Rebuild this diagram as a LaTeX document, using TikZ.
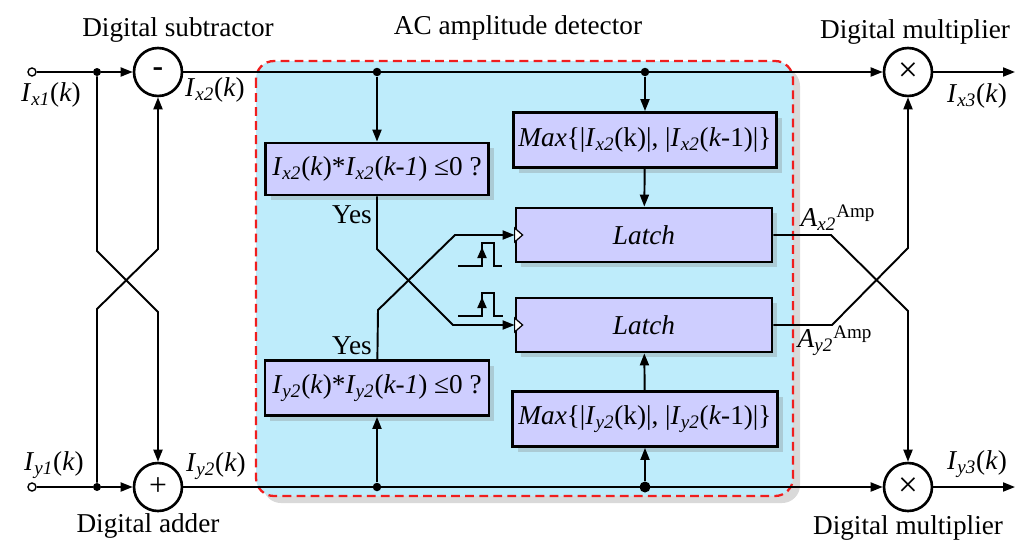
\documentclass[tikz,border=0pt]{standalone}
\usepackage{fontspec}
\setmainfont{Liberation Serif}
\usetikzlibrary{arrows.meta,shadows}
\definecolor{panelblue}{RGB}{190,236,251}
\definecolor{boxlilac}{RGB}{206,206,255}
\definecolor{dashred}{RGB}{240,30,30}
\newcommand{\sig}[2]{\textit{I}\textsubscript{\textit{#1}}(#2)}
\newcommand{\amp}[1]{\textit{A}\textsubscript{\textit{#1}}\textsuperscript{Amp}}
\tikzset{
	wire/.style={line width=1.1pt},
	arr/.style={wire, -{Triangle[length=2.4mm,width=1.8mm]}},
	smallarr/.style={wire, -{Triangle[length=2.2mm,width=1.8mm]}},
	blk/.style={draw, line width=1.6pt, fill=boxlilac, inner sep=0pt,
		drop shadow={shadow xshift=3pt, shadow yshift=-3pt, opacity=0.3}},
	sumnode/.style={draw, circle, line width=1.5pt, fill=white, minimum size=0.96cm, inner sep=0pt},
	dot/.style={circle, fill, inner sep=0pt, minimum size=0.17cm},
	inport/.style={circle, draw, fill=white, line width=0.8pt, inner sep=0pt, minimum size=0.16cm},
	panel/.style={draw=dashred, line width=1.3pt, dash pattern=on 5pt off 3pt, fill=panelblue,
		rounded corners=0.36cm, drop shadow={shadow xshift=4pt, shadow yshift=-4pt, opacity=0.3}},
	clk/.style={draw, fill=white, line width=0.7pt},
}

\begin{document}
\begin{tikzpicture}[x=0.02cm, y=-0.02cm, font=\fontsize{15.5}{18}\selectfont]
	\useasboundingbox (0,0) rectangle (1024,558);
	
	%%%%% AC amplitude detector panel %%%%%
	\draw[panel] (256,61) rectangle (793,496);
	\node (ttlAC) at (518,28) {AC amplitude detector};
	
	%%%%% left side %%%%%
	\node[inport] (inx) at (32,72) {};
	\node[inport] (iny) at (32,487) {};
	\node[dot, minimum size=0.16cm] (jx) at (97,72) {};
	\node[dot, minimum size=0.16cm] (jy) at (97,487) {};
	\node[sumnode] (sub) at (158,72) {\fontsize{18}{18}\selectfont\textbf{-}};
	\node[sumnode] (add) at (158,487) {\fontsize{18}{18}\selectfont +};
	
	\node (ttlSub) at (178,30) {Digital subtractor};
	\node (ttlAdd) at (148,526) {Digital adder};
	\node (lblx1) at (51,95) {\sig{x1}{\textit{k}}};
	\node (lbly1) at (54,465) {\sig{y1}{\textit{k}}};
	\node (lblx2) at (215,90) {\sig{x2}{\textit{k}}};
	\node (lbly2) at (216,466) {\sig{y2}{\textit{k}}};
	
	\draw[wire] (inx) -- (jx);
	\draw[wire] (iny) -- (jy);
	\draw[arr] (jx) -- (sub);
	\draw[arr] (jy) -- (add);
	\draw[arr] (jx) -- (97,251) -- (158,312) -- (add);
	\draw[arr] (jy) -- (97,309) -- (158,249) -- (sub);
	
	%%%%% right side %%%%%
	\node[sumnode] (mulx) at (908,72) {\fontsize{20}{20}\selectfont ×};
	\node[sumnode] (muly) at (908,487) {\fontsize{20}{20}\selectfont ×};
	\coordinate (outx) at (1015,72);
	\coordinate (outy) at (1015,487);
	\node (ttlMulx) at (915,32) {Digital multiplier};
	\node (ttlMuly) at (908,528) {Digital multiplier};
	\node (lblx3) at (977,96) {\sig{x3}{\textit{k}}};
	\node (lbly3) at (977,464) {\sig{y3}{\textit{k}}};
	
	\draw[arr] (sub) -- (mulx);
	\draw[arr] (add) -- (muly);
	\draw[arr] (mulx) -- (outx);
	\draw[arr] (muly) -- (outy);
	
	%%%%% detector blocks %%%%%
	\node[blk, minimum width=4.46cm, minimum height=1.04cm] (chkx) at (377,169)
		{\sig{x2}{\textit{k}}*\sig{x2}{\textit{k-1}} ≤0 ?};
	\node[blk, minimum width=4.48cm, minimum height=1.1cm] (chky) at (377,388)
		{\sig{y2}{\textit{k}}*\sig{y2}{\textit{k-1}} ≤0 ?};
	\node[blk, minimum width=5.26cm, minimum height=1.1cm] (maxx) at (645,140)
		{\textit{Max}\{|\sig{x2}{k}|, |\sig{x2}{\textit{k}-1}|\}};
	\node[blk, minimum width=5.3cm, minimum height=1.1cm] (maxy) at (645,419)
		{\textit{Max}\{|\sig{y2}{k}|, |\sig{y2}{\textit{k}-1}|\}};
	\node[blk, minimum width=5.12cm, minimum height=1.08cm] (latchx) at (644,235) {\textit{Latch}};
	\node[blk, minimum width=5.12cm, minimum height=1.08cm] (latchy) at (644,325) {\textit{Latch}};
	
	\node[dot] (tA) at (377,72) {};
	\node[dot] (tB) at (645,72) {};
	\node[dot] (bA) at (377,487) {};
	\node[dot, minimum size=0.22cm] (bB) at (645,487) {};
	
	\draw[arr] (tA) -- (chkx);
	\draw[arr] (tB) -- (maxx);
	\draw[arr] (maxx) -- (latchx);
	\draw[arr] (bA) -- (chky);
	\draw[arr] (bB) -- (maxy);
	\draw[arr] (maxy) -- (latchy);
	
	\node (yesx) at (352,215) {Yes};
	\node (yesy) at (352,346) {Yes};
	\draw[arr] (chkx) -- (377,249) -- (453,325) -- (latchy);
	\draw[arr] (chky) -- (378,310) -- (455,235) -- (latchx);
	
	\foreach \l in {latchx,latchy}
		\draw[clk] ([yshift=1.4mm]\l.west) -- ([xshift=1.6mm]\l.west) -- ([yshift=-1.4mm]\l.west) -- cycle;
	
	% clock pulses
	\draw[wire] (458,266) -- (482,266) -- (482,243) -- (494,243) -- (494,266) -- (502,266);
	\draw[smallarr] (482,266) -- (482,247);
	\draw[wire] (458,316) -- (482,316) -- (482,293) -- (494,293) -- (494,316) -- (503,316);
	\draw[smallarr] (482,316) -- (482,297);
	
	%%%%% amplitude outputs %%%%%
	\node (lblAx) at (838,218) {\amp{x2}};
	\node (lblAy) at (835,341) {\amp{y2}};
	\draw[arr] (latchx.east) -- (831,235) -- (908,311) -- (muly);
	\draw[arr] (latchy.east) -- (832,325) -- (908,248) -- (mulx);
\end{tikzpicture}
\end{document}
